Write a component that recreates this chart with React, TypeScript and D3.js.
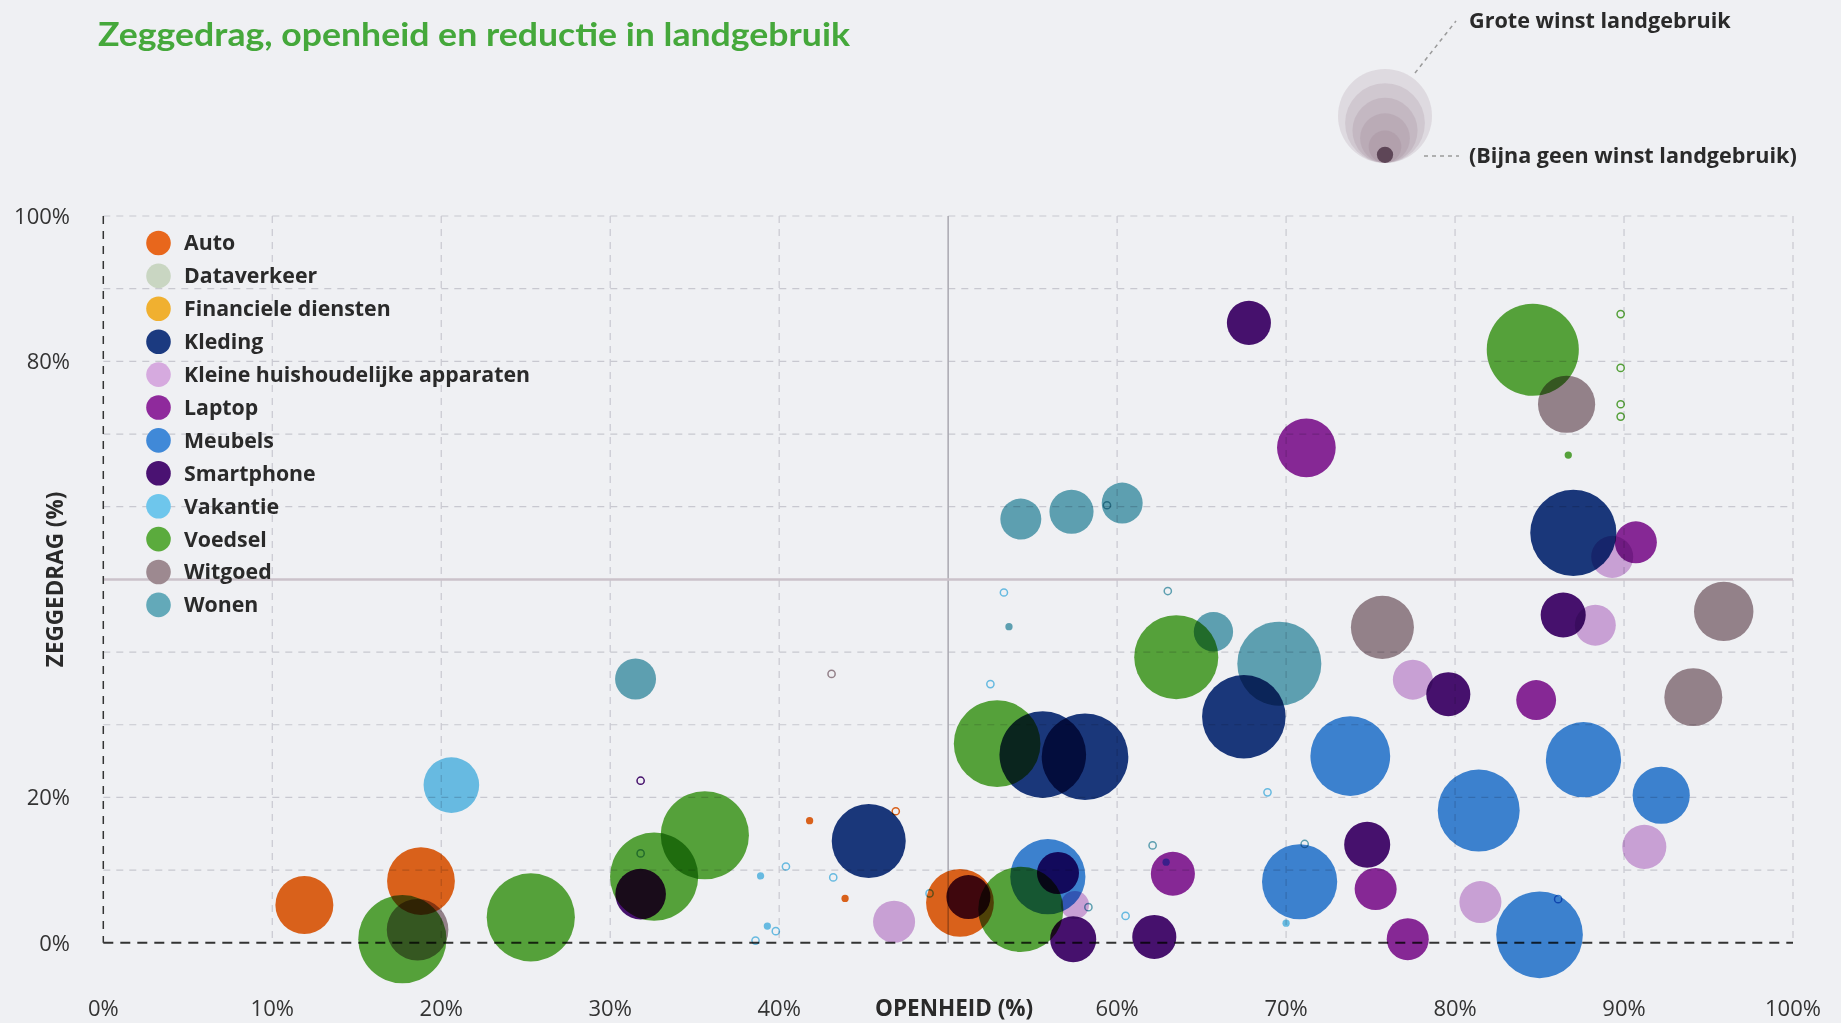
import React from "react";
import * as d3 from "d3";

// ---------- DATA ----------
// each point: [openheid %, zeggedrag %, winst landgebruik (relative size, 0 = ring)]
type P = [number, number, number];

const categories = [
  "Auto",
  "Dataverkeer",
  "Financiele diensten",
  "Kleding",
  "Kleine huishoudelijke apparaten",
  "Laptop",
  "Meubels",
  "Smartphone",
  "Vakantie",
  "Voedsel",
  "Witgoed",
  "Wonen",
];

const colors = [
  "#e8671c",
  "#c9d6c2",
  "#f0b030",
  "#1b3a80",
  "#d6aadf",
  "#8f2a9c",
  "#4089d8",
  "#4a1272",
  "#6ec6ec",
  "#5bab3d",
  "#9d8990",
  "#63a9b9",
];

const auto: P[] = [
  [11.9, 5.2, 38], [18.8, 8.5, 52], [50.7, 5.5, 52],
  [41.8, 16.8, 0.6], [43.9, 6.1, 0.6], [46.9, 18.1, 0],
];
const dataverkeer: P[] = [];
const financieleDiensten: P[] = [];
const kleding: P[] = [
  [45.3, 14.0, 62], [55.6, 25.9, 85], [58.1, 25.6, 85],
  [67.5, 31.1, 79], [87.0, 56.4, 84],
];
const kleineHuish: P[] = [
  [46.8, 2.9, 20], [57.5, 5.2, 9], [89.3, 53.1, 20], [88.3, 43.7, 19],
  [77.5, 36.2, 18], [91.2, 13.2, 22], [81.5, 5.6, 20],
];
const laptop: P[] = [
  [71.2, 68.1, 39], [90.7, 55.1, 20], [84.8, 33.4, 18],
  [63.3, 9.5, 22], [75.3, 7.4, 20], [77.2, 0.5, 20],
];
const meubels: P[] = [
  [55.9, 9.1, 64], [70.8, 8.4, 64], [73.8, 25.7, 72], [81.4, 18.2, 76],
  [87.6, 25.2, 64], [92.2, 20.3, 37], [85.0, 1.1, 85], [86.1, 6.0, 0],
];
const smartphone: P[] = [
  [31.8, 6.7, 29], [51.2, 6.3, 22], [56.5, 9.6, 20], [57.4, 0.5, 24],
  [62.2, 0.8, 22], [74.8, 13.5, 24], [79.6, 34.2, 22], [86.4, 45.1, 23],
  [67.8, 85.3, 22], [31.8, 22.3, 0],
];
const vakantie: P[] = [
  [20.6, 21.7, 35],
  [53.3, 48.2, 0], [52.5, 35.6, 0], [38.9, 9.2, 0.6], [40.4, 10.5, 0],
  [43.2, 9.0, 0], [39.3, 2.3, 0.6], [39.8, 1.6, 0], [38.6, 0.3, 0],
  [48.9, 6.8, 0], [60.5, 3.7, 0], [68.9, 20.7, 0], [70.0, 2.7, 0.6],
  [62.9, 11.1, 0.6],
];
const voedsel: P[] = [
  [17.7, 0.5, 88], [25.3, 3.5, 88], [32.6, 9.1, 88], [35.6, 14.8, 88],
  [52.9, 27.4, 85], [54.3, 4.6, 82], [63.5, 39.3, 80], [84.6, 81.6, 96],
  [86.7, 67.1, 0.6], [89.8, 86.5, 0], [89.8, 79.1, 0], [89.8, 74.1, 0],
  [89.8, 72.4, 0],
];
const witgoed: P[] = [
  [18.6, 1.8, 43], [86.6, 74.1, 37], [75.7, 43.4, 45], [95.9, 45.6, 40],
  [94.1, 33.8, 38], [43.1, 37.0, 0],
];
const wonen: P[] = [
  [31.5, 36.3, 19], [54.3, 58.3, 19], [57.3, 59.3, 22], [60.3, 60.5, 19],
  [65.7, 42.8, 17.5], [69.6, 38.4, 80],
  [59.4, 60.2, 0], [63.0, 48.4, 0], [53.6, 43.5, 0.6], [31.8, 12.3, 0],
  [62.1, 13.4, 0], [58.3, 4.9, 0], [71.1, 13.6, 0],
];

const series: P[][] = [
  auto, dataverkeer, financieleDiensten, kleding, kleineHuish, laptop,
  meubels, smartphone, vakantie, voedsel, witgoed, wonen,
];

const axisTicks = [0, 10, 20, 30, 40, 50, 60, 70, 80, 90, 100];
const yTickLabels = [0, 20, 80, 100];
const sizeLegendValues = [100, 72, 48, 28, 12, 3];

const title = "Zeggedrag, openheid en reductie in landgebruik";
const xTitle = "OPENHEID (%)";
const yTitle = "ZEGGEDRAG (%)";
const sizeLegendTop = "Grote winst landgebruik";
const sizeLegendBottom = "(Bijna geen winst landgebruik)";

// ---------- CHART ----------
const W = 1841;
const H = 1023;
const FONT = "'Open Sans', Lato, sans-serif";

export default function App() {
  const x = d3.scaleLinear().domain([0, 100]).range([103.3, 1793]);
  const y = d3.scaleLinear().domain([0, 100]).range([942.8, 216]);
  const r = d3.scaleSqrt().domain([0, 100]).range([0, 47]);

  const legendY = (i: number) => 243 + i * 32.9;

  const slCx = 1385;
  const slBottom = 163;

  return (
    <div style={{ position: "absolute", left: 0, top: 0, width: W, height: H }}>
      <svg width={W} height={H} style={{ display: "block", fontFamily: FONT }}>
        <rect x={0} y={0} width={W} height={H} fill="#eff0f3" />

        {/* title */}
        <text x={98} y={46} fontSize={33} fontWeight={700} fill="#45a83b"
          fontFamily="Lato, sans-serif" textLength={752} lengthAdjust="spacingAndGlyphs">
          {title}
        </text>

        {/* grid */}
        {axisTicks.filter((t) => t > 0 && t !== 50).map((t) => (
          <line key={"vx" + t} x1={x(t)} x2={x(t)} y1={y(100)} y2={y(0)}
            stroke="#c8c8d0" strokeWidth={1.2} strokeDasharray="7 6" />
        ))}
        {axisTicks.filter((t) => t > 0 && t !== 50).map((t) => (
          <line key={"hy" + t} x1={x(0)} x2={x(100)} y1={y(t)} y2={y(t)}
            stroke="#c8c8d0" strokeWidth={1.2} strokeDasharray="7 6" />
        ))}
        <line x1={x(50)} x2={x(50)} y1={y(100)} y2={y(0)} stroke="#a9a7b0" strokeWidth={1.5} />
        <line x1={x(0)} x2={x(100)} y1={y(50)} y2={y(50)} stroke="#cbc2ca" strokeWidth={2.5} />
        <line x1={x(0)} x2={x(0)} y1={y(100)} y2={y(0)} stroke="#333" strokeWidth={1.5} strokeDasharray="8 7" />
        <line x1={x(0)} x2={x(100)} y1={y(0)} y2={y(0)} stroke="#333" strokeWidth={2} strokeDasharray="10 7" />

        {/* bubbles */}
        {series.map((pts, ci) =>
          pts.map((p, i) =>
            p[2] === 0 ? (
              <circle key={ci + "-" + i} cx={x(p[0])} cy={y(p[1])} r={3.6}
                fill="none" stroke={colors[ci]} strokeWidth={1.5}
                style={{ mixBlendMode: "multiply" }} />
            ) : (
              <circle key={ci + "-" + i} cx={x(p[0])} cy={y(p[1])} r={r(p[2])}
                fill={colors[ci]} style={{ mixBlendMode: "multiply" }} />
            )
          )
        )}

        {/* y tick labels */}
        {yTickLabels.map((t) => (
          <text key={"yl" + t} x={70} y={y(t)} dy="0.35em" textAnchor="end"
            fontSize={22} fill="#333">{t + "%"}</text>
        ))}
        {/* x tick labels */}
        {axisTicks.map((t) =>
          t === 50 ? (
            <text key={"xl" + t} x={x(t) + 6} y={1008} dy="0.35em" textAnchor="middle"
              fontSize={22.5} fontWeight={700} fill="#2a2a2a">{xTitle}</text>
          ) : (
            <text key={"xl" + t} x={x(t)} y={1008} dy="0.35em" textAnchor="middle"
              fontSize={22} fill="#333">{t + "%"}</text>
          )
        )}
        <text transform={`translate(55,${y(50)}) rotate(-90)`} textAnchor="middle" dy="0.35em"
          fontSize={22.5} fontWeight={700} fill="#2a2a2a">{yTitle}</text>

        {/* category legend */}
        {categories.map((c, i) => (
          <g key={"lg" + i}>
            <circle cx={158.5} cy={legendY(i)} r={12.3} fill={colors[i]} />
            <text x={184} y={legendY(i)} dy="0.35em" fontSize={21.3} fontWeight={700} fill="#2a2a2a">
              {c}
            </text>
          </g>
        ))}

        {/* size legend */}
        {sizeLegendValues.map((v, i) => (
          <circle key={"sl" + i} cx={slCx} cy={slBottom - r(v)} r={r(v)}
            fill={i === sizeLegendValues.length - 1 ? "#5e4657" : "#8b6a7e"}
            fillOpacity={i === sizeLegendValues.length - 1 ? 1 : 0.16} />
        ))}
        <line x1={1415} y1={73} x2={1456} y2={21} stroke="#9a9a9a" strokeWidth={1.5} strokeDasharray="4 4" />
        <line x1={1424} y1={156} x2={1459} y2={156} stroke="#9a9a9a" strokeWidth={1.5} strokeDasharray="4 4" />
        <text x={1469} y={20} dy="0.35em" fontSize={21.6} fontWeight={700} fill="#2a2a2a">{sizeLegendTop}</text>
        <text x={1469} y={155} dy="0.35em" fontSize={21.6} fontWeight={700} fill="#2a2a2a">{sizeLegendBottom}</text>
      </svg>
    </div>
  );
}
